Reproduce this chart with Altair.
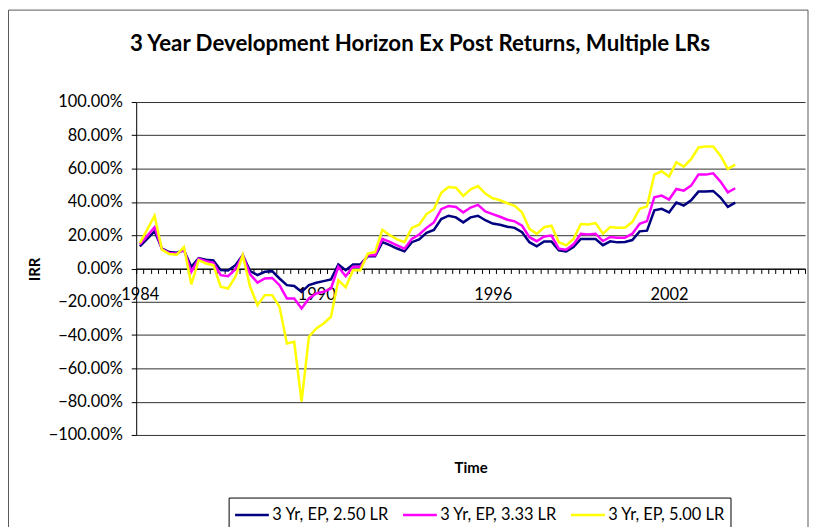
import altair as alt
import pandas as pd

# ---- data (quarterly IRR, %, starting 1984 Q1) ----
series_names = ["3 Yr, EP, 2.50 LR", "3 Yr, EP, 3.33 LR", "3 Yr, EP, 5.00 LR"]
series_colors = ["#000080", "#FF00FF", "#FFFF00"]

lr_250 = [13.3, 17.8, 22.4, 11.9, 9.9, 9.5, 10.9, 1.0, 6.3, 5.3, 4.8, -1.0, -1.2, 2.0, 8.0,
          -1.5, -4.0, -2.0, -1.6, -6.0, -10.0, -10.5, -14.0, -10.0, -8.6, -7.6, -6.6, 2.4, -1.0,
          2.4, 2.4, 7.3, 7.3, 15.8, 14.0, 12.0, 10.3, 15.8, 17.4, 21.4, 23.2, 29.7, 31.7, 30.7,
          27.7, 30.7, 31.7, 29.0, 27.0, 26.3, 25.1, 24.4, 21.8, 15.8, 13.3, 16.2, 16.2, 10.9,
          10.3, 12.9, 17.7, 17.7, 17.7, 14.0, 16.3, 15.7, 15.9, 17.1, 22.3, 22.7, 35.0, 35.8,
          33.7, 39.6, 37.8, 41.0, 46.2, 46.2, 46.6, 42.6, 37.0, 39.6]
lr_333 = [14.5, 19.6, 24.8, 11.7, 9.3, 8.9, 11.3, -2.0, 5.9, 4.4, 3.4, -4.0, -4.6, -0.5, 8.0,
          -3.5, -8.5, -6.0, -5.7, -10.0, -18.0, -18.0, -24.0, -18.0, -15.0, -14.0, -12.0, 1.0, -4.6,
          1.0, 1.0, 7.9, 7.9, 17.8, 16.0, 13.9, 11.9, 17.8, 20.4, 24.4, 27.7, 35.6, 37.6, 37.0,
          33.7, 36.6, 38.2, 34.3, 32.7, 31.1, 29.3, 28.3, 25.7, 18.8, 16.4, 19.2, 19.8, 11.9,
          11.3, 14.5, 20.9, 20.5, 20.9, 16.5, 18.9, 18.5, 18.5, 20.9, 26.9, 28.5, 42.8, 43.8,
          41.4, 47.8, 46.8, 49.8, 56.4, 56.4, 57.2, 52.2, 45.8, 48.2]
lr_500 = [15.2, 23.4, 31.7, 11.3, 8.7, 8.3, 12.9, -9.5, 5.0, 3.0, 2.0, -10.9, -12.0, -5.0, 8.0,
          -11.0, -22.0, -16.0, -16.0, -23.0, -45.0, -44.0, -80.0, -41.0, -36.0, -33.0, -29.0, -7.0, -11.3,
          -1.0, -1.0, 8.9, 9.9, 23.2, 20.0, 17.5, 15.8, 24.4, 26.3, 32.7, 35.6, 45.5, 48.9, 48.5,
          43.6, 47.5, 49.5, 45.0, 42.2, 41.0, 39.2, 37.6, 33.7, 23.8, 20.8, 24.8, 25.7, 15.8,
          13.9, 17.8, 26.7, 26.5, 27.3, 20.9, 24.9, 24.5, 24.5, 27.9, 35.9, 37.3, 56.4, 58.4,
          55.2, 63.8, 61.2, 65.7, 72.7, 73.3, 73.3, 67.7, 59.8, 62.4]

n_categories = 91                      # quarters shown on the category axis
year_labels = ["1984", "1990", "1996", "2002"]
label_positions = [0, 24, 48, 72]
y_ticks = [-1.0, -0.8, -0.6, -0.4, -0.2, 0.0, 0.2, 0.4, 0.6, 0.8, 1.0]

rows = []
for name, vals in zip(series_names, [lr_250, lr_333, lr_500]):
    for i, v in enumerate(vals):
        rows.append({"q": i, "irr": v / 100.0, "series": name})
df = pd.DataFrame(rows)

FONT = "Lato"

label_expr = "".join(
    f"datum.value == {p} ? '{t}' : " for p, t in zip(label_positions, year_labels)
) + "''"
x_values = [i - 0.5 for i in range(n_categories + 1)] + label_positions

x_enc = alt.X(
    "q:Q",
    scale=alt.Scale(domain=[-0.5, n_categories - 0.5], nice=False, zero=False),
    axis=alt.Axis(
        values=x_values,
        labelExpr=label_expr,
        offset=-167.5,
        domainColor="#000000",
        domainWidth=1,
        tickColor="#000000",
        tickSize=5,
        tickOpacity={"condition": {"test": "datum.value % 1 == 0", "value": 0}, "value": 1},
        labelPadding=13,
        labelFont=FONT,
        labelFontSize=16.5,
        labelColor="#000000",
        labelOverlap=False,
        labelFlush=False,
        grid=False,
        title="Time",
        titleFont=FONT,
        titleFontSize=15,
        titleFontWeight="bold",
        titleColor="#000000",
        titleY=205,
        titleBaseline="alphabetic",
    ),
)

y_enc = alt.Y(
    "irr:Q",
    scale=alt.Scale(domain=[-1, 1], nice=False),
    axis=alt.Axis(
        values=y_ticks,
        format=".2%",
        domainColor="#000000",
        tickColor="#000000",
        tickSize=5,
        labelPadding=9,
        labelFont=FONT,
        labelFontSize=16.5,
        labelColor="#000000",
        gridColor="#303030",
        gridWidth=1,
        title="IRR",
        titleFont=FONT,
        titleFontSize=15,
        titleFontWeight="bold",
        titleColor="#000000",
        titleX=-97,
        titleY=168,
        titleAngle=-90,
        titleAlign="center",
        titleBaseline="alphabetic",
    ),
)

color_enc = alt.Color(
    "series:N",
    scale=alt.Scale(domain=series_names, range=series_colors),
    legend=alt.Legend(
        title=None,
        orient="none",
        legendX=93,
        legendY=398,
        direction="horizontal",
        symbolType="M-1,0H2.09",
        symbolSize=484,
        symbolStrokeWidth=2.5,
        symbolFillColor="transparent",
        labelOffset=14,
        labelFont=FONT,
        labelFontSize=16.5,
        labelColor="#000000",
        columnPadding=8,
        strokeColor="#000000",
        padding=5,
        labelLimit=300,
    ),
)

base = alt.Chart(df).mark_line(strokeWidth=2.5).encode(x=x_enc, y=y_enc, color=color_enc)
line_layers = [base.transform_filter(alt.datum.series == s) for s in series_names]

frame = alt.Chart(alt.Data(values=[{"a": 1}])).mark_rect(
    fill="transparent", stroke="#595959", strokeWidth=1
).encode(
    x=alt.value(-128.5), x2=alt.value(676), y=alt.value(-92.5), y2=alt.value(440)
)

chart = alt.layer(frame, *line_layers).properties(
    width=673,
    height=335,
    padding={"left": 129, "top": 93, "right": 4, "bottom": 91},
    autosize=alt.AutoSizeParams(type="none"),
    title=alt.TitleParams(
        "3 Year Development Horizon Ex Post Returns, Multiple LRs",
        font=FONT,
        fontSize=22.4,
        fontWeight="bold",
        color="#000000",
        anchor="middle",
        dx=-51,
        offset=-46,
    ),
).configure_view(strokeWidth=0)

chart.save("out.html", embed_options={"renderer": "svg", "actions": False})
